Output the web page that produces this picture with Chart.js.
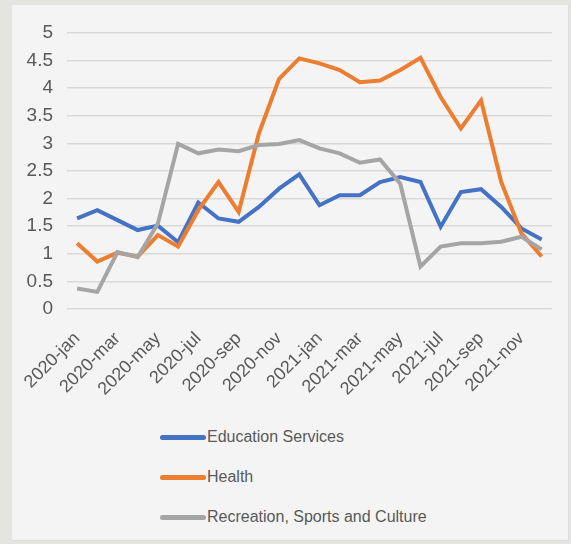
<!DOCTYPE html>
<html>
<head>
<meta charset="utf-8">
<script src="https://cdn.jsdelivr.net/npm/chart.js@4.4.1/dist/chart.umd.min.js"></script>
<style>
  html, body { margin: 0; padding: 0; background: #e4e4e0; }
  #panel { position: absolute; left: 12px; top: 5px; width: 556px; height: 535px;
           background: #f4f4f4; border-right: 1px solid #dcdcdc; border-bottom: 1px solid #dcdcdc; }
  #wrap { position: absolute; left: 0; top: 0; width: 556px; height: 410px; }
  #legend { position: absolute; left: 148px; top: 412px; font-family: "Liberation Sans", Arial, sans-serif;
            font-size: 16px; color: #595959; }
  .item { height: 40px; display: flex; align-items: center; }
  .swatch { width: 46px; height: 5px; border-radius: 3px; margin-right: 1px; }
</style>
</head>
<body>
<div id="panel">
  <div id="wrap"><canvas id="Chart"></canvas></div>
  <div id="legend"></div>
</div>
<script>
var months = ["2020-jan","2020-feb","2020-mar","2020-apr","2020-may","2020-jun","2020-jul","2020-aug","2020-sep","2020-oct","2020-nov","2020-dec",
              "2021-jan","2021-feb","2021-mar","2021-apr","2021-may","2021-jun","2021-jul","2021-aug","2021-sep","2021-oct","2021-nov","2021-dec"];
var education = [1.64,1.79,1.61,1.43,1.51,1.21,1.93,1.64,1.58,1.85,2.18,2.44,1.88,2.06,2.06,2.30,2.39,2.30,1.49,2.12,2.17,1.85,1.46,1.26];
var health = [1.19,0.86,1.02,0.95,1.34,1.13,1.79,2.30,1.76,3.18,4.17,4.54,4.45,4.33,4.11,4.14,4.33,4.55,3.84,3.27,3.78,2.30,1.37,0.95];
var recreation = [0.37,0.31,1.03,0.94,1.55,2.99,2.82,2.89,2.86,2.97,2.99,3.06,2.91,2.82,2.65,2.71,2.27,0.77,1.13,1.19,1.19,1.22,1.31,1.08];
var names = ["Education Services","Health","Recreation, Sports and Culture"];
var colors = ["#4472c4","#ed7d31","#a5a5a5"];

var font = "'Liberation Sans', Arial, sans-serif";
var series = [education, health, recreation];

var ctx = document.getElementById("Chart").getContext("2d");
var lineChart = new Chart(ctx, {
    type: 'line',
    data: {
        labels: months,
        datasets: series.map(function (s, i) {
            return {
                label: names[i],
                data: s,
                borderColor: colors[i],
                backgroundColor: colors[i],
                borderWidth: 4,
                pointRadius: 0,
                tension: 0,
                fill: false,
                order: 3 - i
            };
        })
    },
    options: {
        responsive: true,
        maintainAspectRatio: false,
        animation: false,
        layout: { padding: { top: 28, right: 3, left: 0, bottom: 0 } },
        plugins: { legend: { display: false }, tooltip: { enabled: false } },
        scales: {
            x: {
                offset: true,
                grid: { display: false },
                border: { display: false },
                ticks: {
                    autoSkip: false,
                    maxRotation: 45,
                    minRotation: 45,
                    padding: 11,
                    color: '#595959',
                    font: { family: font, size: 18 },
                    callback: function (v, i) { return i % 2 === 0 ? months[i] : ''; }
                },
                afterFit: function (s) { s.height = 106; }
            },
            y: {
                min: 0,
                max: 5,
                ticks: {
                    stepSize: 0.5, color: '#595959', padding: 14, font: { family: font, size: 19 },
                    callback: function (v) { return String(Math.round(v * 10) / 10); }
                },
                grid: { color: '#d9d9d9', lineWidth: 1.5, drawTicks: false },
                border: { display: false },
                afterFit: function (s) { s.width = 55; }
            }
        }
    }
});

var legend = document.getElementById("legend");
names.forEach(function (n, i) {
    var row = document.createElement("div");
    row.className = "item";
    row.innerHTML = '<span class="swatch" style="background:' + colors[i] + '"></span><span>' + n + '</span>';
    legend.appendChild(row);
});
</script>
</body>
</html>
